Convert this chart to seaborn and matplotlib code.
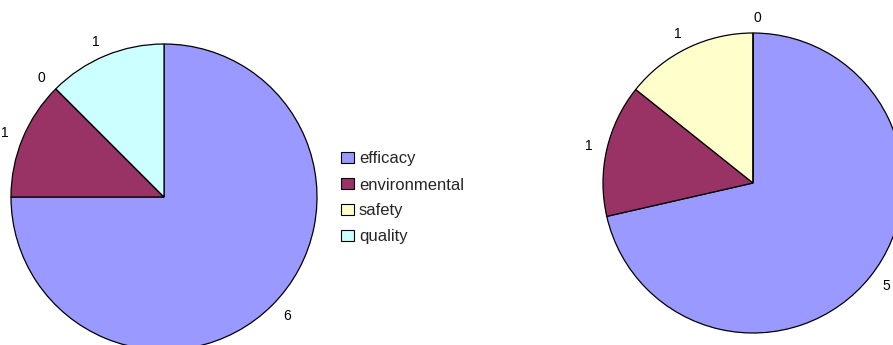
import matplotlib
matplotlib.use("Agg")
import matplotlib.pyplot as plt
from matplotlib.patches import Patch
import seaborn as sns

sns.set_style("white")
plt.rcParams['font.family'] = ['Liberation Sans', 'DejaVu Sans']

categories = ["efficacy", "environmental", "safety", "quality"]
left_values = [6, 1, 0, 1]
right_values = [5, 1, 1, 0]
colors = ["#9999FF", "#993366", "#FFFFCC", "#CCFFFF"]

W, H = 893, 345
fig = plt.figure(figsize=(W / 100, H / 100), dpi=100)


def pie_axes(cx, cy, r):
    # put the unit circle at pixel centre (cx, cy) with radius r
    return fig.add_axes([(cx - r) / W, (H - cy - r) / H, 2 * r / W, 2 * r / H])


def draw_pie(ax, values):
    ax.pie(values, labels=[str(v) for v in values], colors=colors,
           startangle=90, counterclock=False, labeldistance=1.1,
           wedgeprops=dict(edgecolor="black", linewidth=0.9),
           textprops=dict(fontsize=10, color="black"))
    ax.set_xlim(-1, 1)
    ax.set_ylim(-1, 1)
    ax.set_aspect("equal")
    ax.axis("off")
    for t in ax.texts:
        t.set_clip_on(False)


ax1 = pie_axes(164, 197, 153)
draw_pie(ax1, left_values)

ax2 = pie_axes(753, 183, 150)
draw_pie(ax2, right_values)

handles = [Patch(facecolor=c, edgecolor="black", linewidth=0.8) for c in colors]
fig.legend(handles, categories, loc="center left",
           bbox_to_anchor=(341 / W, (H - 198) / H), frameon=False,
           fontsize=12, handlelength=0.78, handleheight=0.6,
           handletextpad=0.3, labelspacing=0.66, borderaxespad=0,
           borderpad=0)

fig.savefig("out.png", dpi=100)
